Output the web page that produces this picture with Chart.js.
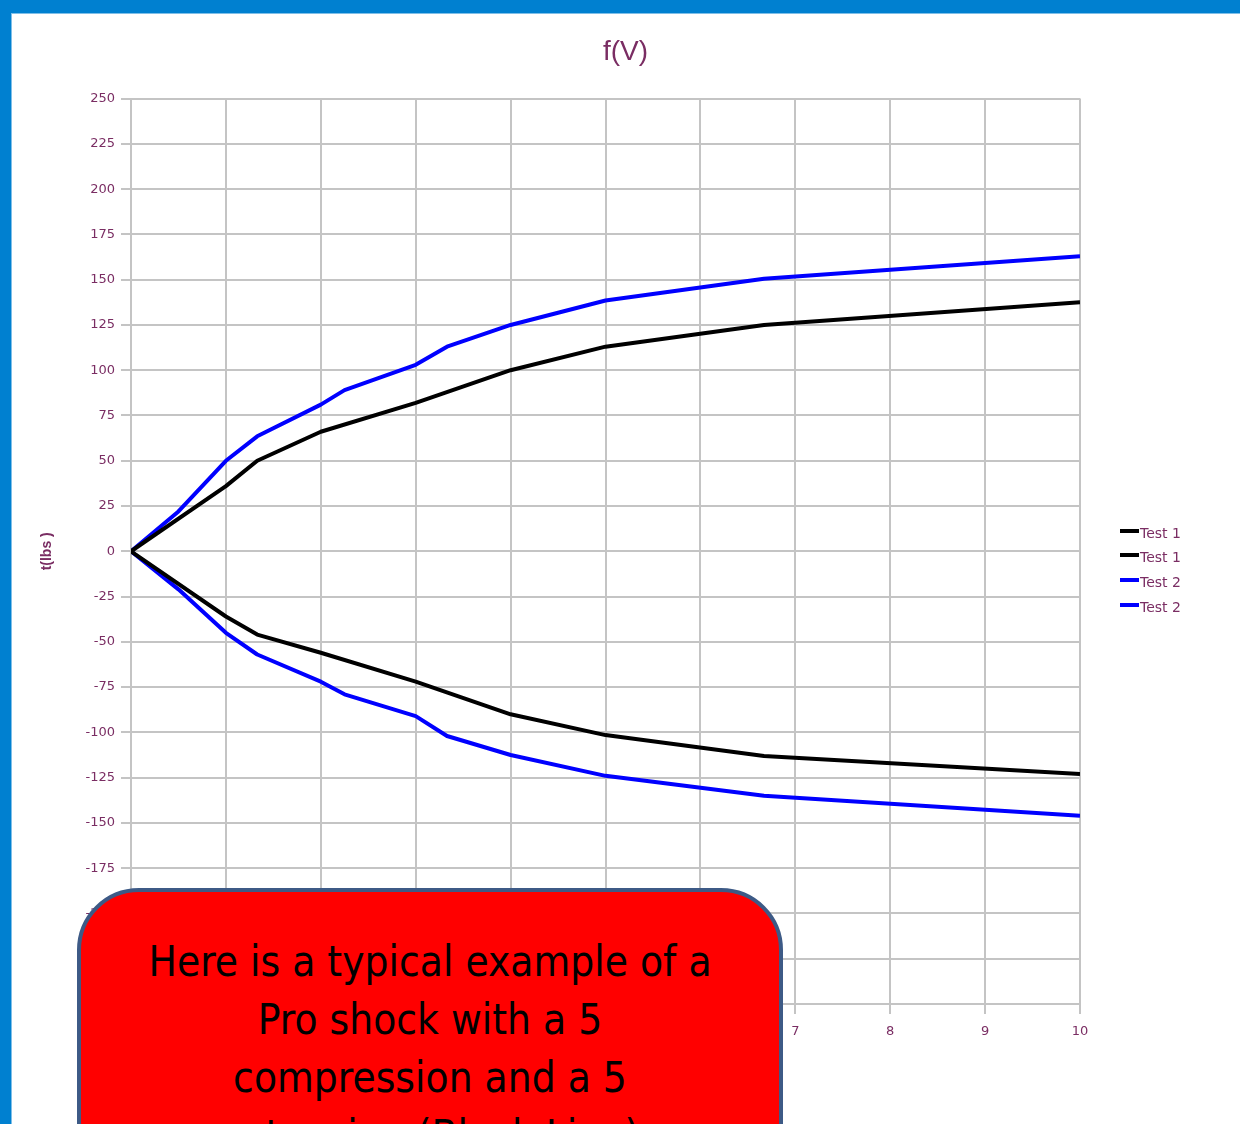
<!DOCTYPE html>
<html>
<head>
<meta charset="utf-8">
<script src="https://cdn.jsdelivr.net/npm/chart.js@4/dist/chart.umd.min.js"></script>
<style>
  html, body { margin: 0; padding: 0; width: 1240px; height: 1124px; overflow: hidden; background: #0080d0; }
  #white { position: absolute; left: 11px; top: 13px; right: 0; bottom: 0; background: #ffffff; border-left: 1px solid #7fbfe8; border-top: 1px solid #7fbfe8; }
  #wrap { position: absolute; left: 0; top: 0; width: 1240px; height: 1124px; }
  #note { position: absolute; left: 77px; top: 888px; width: 698px; height: 320px; background: #ff0000;
          border: 4px solid #3d5a86; border-radius: 62px; box-sizing: content-box;
          font-family: "Liberation Sans Narrow", "DejaVu Sans Condensed", "Open Sans", sans-serif;
          font-size: 42px; line-height: 58px; color: #000; text-align: center; padding-top: 41px; }
</style>
</head>
<body>
<div id="white"></div>
<div id="wrap"><canvas id="c" width="1240" height="1124"></canvas></div>
<div id="note">Here is a typical example of a<br>Pro shock with a 5<br>compression and a 5<br>extension (Black Line)</div>
<script>
// Velocity (x) and force (y) readings
const xTest1 = [0, 1, 1.33, 2, 3, 4, 5, 6.67, 10];
const test1Comp = [0, 36, 50, 66, 82, 100, 113, 125, 137.5];
const test1Ext = [0, -36, -46, -56, -72, -90, -101.5, -113, -123];
const xTest2 = [0, 0.5, 1, 1.33, 2, 2.25, 3, 3.33, 4, 5, 6.67, 10];
const test2Comp = [0, 22, 50, 63.5, 81, 89, 103, 113, 125, 138.5, 150.5, 163];
const test2Ext = [0, -21, -45, -57, -72, -79, -91, -102, -112.5, -124, -135, -146];
const xTicks = [0, 1, 2, 3, 4, 5, 6, 7, 8, 9, 10];
const seriesLabels = ['Test 1', 'Test 1', 'Test 2', 'Test 2'];
const chartTitle = 'f(V)';
const yTitle = 't(lbs )';

const pts = (xs, ys) => xs.map((x, i) => ({ x: x, y: ys[i] }));
const textColor = '#7a2d63';
const tickFont = { family: '"DejaVu Sans", Verdana, sans-serif', size: 13 };

const legendPlugin = {
  id: 'sideLegend',
  afterDraw(chart) {
    const ctx = chart.ctx;
    ctx.save();
    const ys = [533, 557, 582, 607];
    chart.data.datasets.forEach((ds, i) => {
      ctx.fillStyle = ds.borderColor;
      ctx.fillRect(1120, ys[i] - 4, 19, 4);
      ctx.fillStyle = textColor;
      ctx.font = '14px "DejaVu Sans", Verdana, sans-serif';
      ctx.textBaseline = 'middle';
      ctx.textAlign = 'left';
      ctx.fillText(ds.label, 1140, ys[i] + 1);
    });
    ctx.restore();
  }
};

new Chart(document.getElementById('c'), {
  type: 'line',
  data: {
    datasets: [
      { label: seriesLabels[0], data: pts(xTest1, test1Comp), borderColor: '#000000', borderWidth: 4 },
      { label: seriesLabels[1], data: pts(xTest1, test1Ext), borderColor: '#000000', borderWidth: 4 },
      { label: seriesLabels[2], data: pts(xTest2, test2Comp), borderColor: '#0000ff', borderWidth: 4 },
      { label: seriesLabels[3], data: pts(xTest2, test2Ext), borderColor: '#0000ff', borderWidth: 4 }
    ]
  },
  options: {
    responsive: false,
    animation: false,
    events: [],
    elements: { point: { radius: 0 }, line: { tension: 0, borderJoinStyle: 'round' } },
    layout: { padding: { left: 11, right: 0, top: 13, bottom: 0 } },
    plugins: {
      legend: { display: false },
      tooltip: { enabled: false },
      title: {
        display: true, text: chartTitle, color: textColor,
        font: { family: '"Liberation Sans", Arial, sans-serif', size: 28, weight: 'normal', lineHeight: 1.2 },
        padding: { top: 22, bottom: 30 }
      }
    },
    scales: {
      x: {
        type: 'linear', min: 0, max: 10,
        afterBuildTicks(s) { s.ticks = xTicks.map(v => ({ value: v })); },
        afterFit(s) { s.height = 120; },
        grid: { color: '#c4c4c4', lineWidth: 2, tickLength: 10, drawTicks: true },
        border: { color: '#c4c4c4', width: 2 },
        ticks: { color: textColor, padding: 10, maxRotation: 0, font: tickFont }
      },
      y: {
        type: 'linear', min: -250, max: 250,
        ticks: { stepSize: 25, color: textColor, padding: 6, font: tickFont },
        afterFit(s) { s.width = 120; },
        grid: { color: '#c4c4c4', lineWidth: 2, tickLength: 10 },
        border: { color: '#c4c4c4', width: 2 },
        title: { display: true, text: yTitle, color: textColor, padding: { top: 28, bottom: 0 },
                 font: { family: '"Liberation Sans", Arial, sans-serif', size: 14, weight: 'bold' } }
      },
      legendSpace: {
        type: 'linear', position: 'right', display: true,
        afterFit(s) { s.width = 160; },
        grid: { display: false },
        border: { display: false },
        ticks: { display: false }
      }
    }
  },
  plugins: [legendPlugin]
});
</script>
</body>
</html>
